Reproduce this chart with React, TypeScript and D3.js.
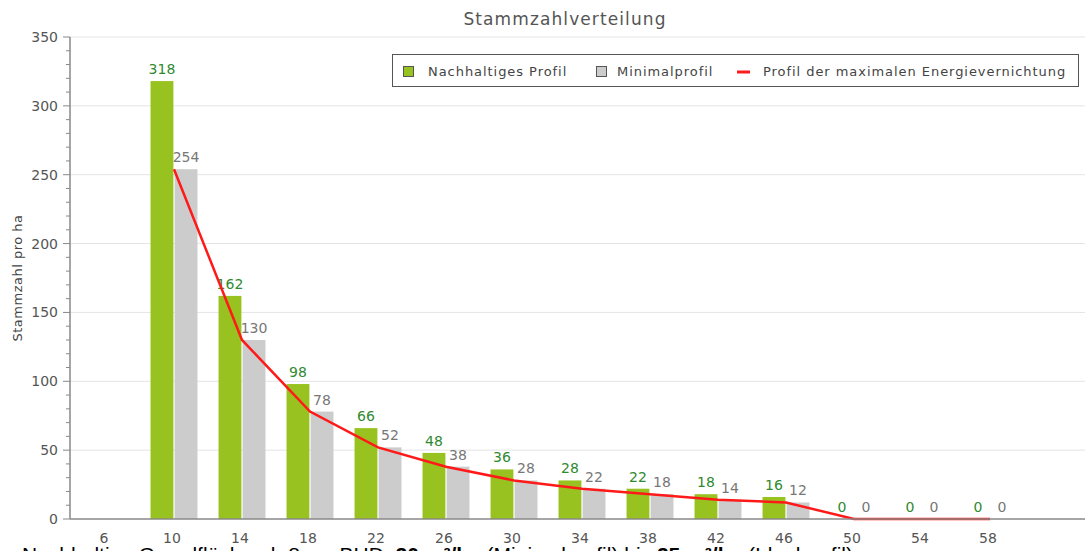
import React from "react";
import * as d3 from "d3";

const width = 1086;
const height = 551;
const margin = { top: 37, right: 1, bottom: 32, left: 70 };

const categories = ["6", "10", "14", "18", "22", "26", "30", "34", "38", "42", "46", "50", "54", "58"];
const nachhaltig = [null, 318, 162, 98, 66, 48, 36, 28, 22, 18, 16, 0, 0, 0];
const minimal = [null, 254, 130, 78, 52, 38, 28, 22, 18, 14, 12, 0, 0, 0];
const energie = [null, 254, 130, 78, 52, 38, 28, 22, 18, 14, 12, 0, 0, 0];
const yTicks = [0, 50, 100, 150, 200, 250, 300, 350];
const legendItems = ["Nachhaltiges Profil", "Minimalprofil", "Profil der maximalen Energievernichtung"];

const green = "#98c21f";
const grey = "#cccccc";
const red = "#ff1a1a";
const font = "DejaVu Sans, sans-serif";

const xScale = d3
  .scaleBand()
  .domain(categories)
  .range([margin.left + 2, margin.left + 2 + 68 * categories.length])
  .paddingInner(0.31)
  .paddingOuter(0.155);
const sub = d3.scaleBand().domain(["n", "m"]).range([0, xScale.bandwidth()]).paddingInner(0.05);
const yScale = d3.scaleLinear().domain([0, 350]).range([height - margin.bottom, margin.top]);
const minorTicks = d3.range(0, 351, 10).filter((v) => v % 50 !== 0);

const App = () => {
  const x0 = margin.left;
  const x1 = width - margin.right;
  const y0 = yScale(0);
  const center = (c) => xScale(c) + xScale.bandwidth() / 2;

  const linePts = categories
    .map((c, i) => [center(c), energie[i]])
    .filter((d) => d[1] !== null);
  const line = d3
    .line()
    .x((d) => d[0])
    .y((d) => yScale(d[1]));

  return (
    <svg
      width={width}
      height={height}
      style={{ position: "absolute", left: 0, top: 0, display: "block", background: "#fff" }}
      fontFamily={font}
    >
      <text x={565} y={25} textAnchor="middle" fontSize={17} fill="#555" letterSpacing={1.1}>
        Stammzahlverteilung
      </text>

      {yTicks.map((t) => (
        <g key={t}>
          {t > 0 && <line x1={x0} x2={x1} y1={yScale(t)} y2={yScale(t)} stroke="#e4e4e4" strokeWidth={1} />}
          <line x1={x0 - 7} x2={x0} y1={yScale(t)} y2={yScale(t)} stroke="#888" />
          <text x={x0 - 12} y={yScale(t) + 5} textAnchor="end" fontSize={14} fill="#555">
            {t}
          </text>
        </g>
      ))}
      {minorTicks.map((t) => (
        <line key={t} x1={x0 - 4} x2={x0} y1={yScale(t)} y2={yScale(t)} stroke="#888" />
      ))}
      <text
        transform={`translate(22,${(margin.top + y0) / 2}) rotate(-90)`}
        textAnchor="middle"
        fontSize={13}
        fill="#444"
        letterSpacing={0.5}
      >
        Stammzahl pro ha
      </text>

      {categories.map((c, i) => (
        <g key={c}>
          {nachhaltig[i] !== null && (
            <>
              <rect
                x={xScale(c) + sub("n")}
                y={yScale(nachhaltig[i])}
                width={sub.bandwidth()}
                height={y0 - yScale(nachhaltig[i])}
                fill={green}
              />
              <text
                x={xScale(c) + sub("n") + sub.bandwidth() / 2}
                y={yScale(nachhaltig[i]) - 7}
                textAnchor="middle"
                fontSize={14}
                fill="#2f8a2f"
              >
                {nachhaltig[i]}
              </text>
            </>
          )}
          {minimal[i] !== null && (
            <>
              <rect
                x={xScale(c) + sub("m")}
                y={yScale(minimal[i])}
                width={sub.bandwidth()}
                height={y0 - yScale(minimal[i])}
                fill={grey}
              />
              <text
                x={xScale(c) + sub("m") + sub.bandwidth() / 2}
                y={yScale(minimal[i]) - 7}
                textAnchor="middle"
                fontSize={14}
                fill="#777"
              >
                {minimal[i]}
              </text>
            </>
          )}
          <text x={center(c) - 2} y={543} textAnchor="middle" fontSize={14} fill="#555">
            {c}
          </text>
        </g>
      ))}

      <path d={line(linePts)} fill="none" stroke={red} strokeWidth={2.5} />
      <line x1={x0} x2={x0} y1={margin.top} y2={y0} stroke="#888" strokeWidth={1.5} />
      <line x1={x0} x2={x1} y1={y0} y2={y0} stroke="#888" strokeWidth={1.5} />

      <g fontSize={13} fill="#444" letterSpacing={0.95}>
        <rect x={392.5} y={54.5} width={686} height={32} fill="#fff" stroke="#555" />
        <rect x={403.5} y={66.5} width={10} height={10} fill={green} stroke="#555" />
        <text x={428} y={76}>{legendItems[0]}</text>
        <rect x={596.5} y={66.5} width={10} height={10} fill={grey} stroke="#555" />
        <text x={617} y={76}>{legendItems[1]}</text>
        <line x1={737} x2={750} y1={72} y2={72} stroke={red} strokeWidth={3} />
        <text x={763} y={76}>{legendItems[2]}</text>
      </g>

      <text x={22} y={562} fontFamily="Liberation Sans, Arial, sans-serif" fontSize={21} fill="#000">
        Nachhaltige Grundfläche ab 8 cm BHD: <tspan fontWeight="bold">20 m²/ha</tspan> (Minimalprofil) bis{" "}
        <tspan fontWeight="bold">25 m²/ha</tspan> (Idealprofil)
      </text>
    </svg>
  );
};

export default App;
